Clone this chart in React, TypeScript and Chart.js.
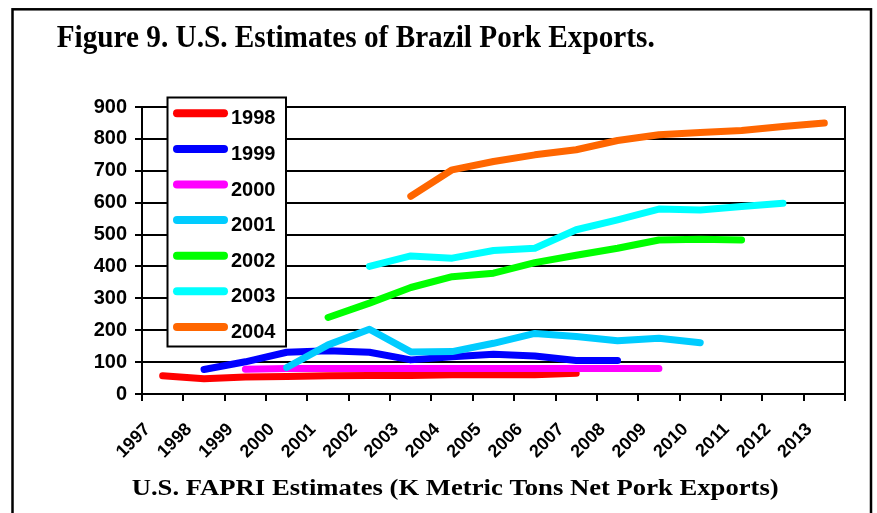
import React, { useEffect, useRef } from "react";
import { Chart, registerables } from "chart.js";

Chart.register(...registerables);

// Projection years on the category axis
const years = [
  "1997", "1998", "1999", "2000", "2001", "2002", "2003", "2004", "2005",
  "2006", "2007", "2008", "2009", "2010", "2011", "2012", "2013",
];

// One line per FAPRI baseline year (K metric tons net pork exports)
const seriesLabels = ["1998", "1999", "2000", "2001", "2002", "2003", "2004"];

const est1998 = [57, 48, 53, 55, 57, 58, 58, 60, 60, 60, 65, null, null, null, null, null, null];
const est1999 = [null, 77, 101, 131, 136, 131, 107, 117, 125, 119, 105, 105, null, null, null, null, null];
const est2000 = [null, null, 78, 80, 80, 80, 80, 80, 80, 80, 80, 80, 80, null, null, null, null];
const est2001 = [null, null, null, 83, 154, 203, 132, 133, 159, 190, 180, 167, 175, 161, null, null, null];
const est2002 = [null, null, null, null, 240, 285, 334, 368, 379, 412, 435, 457, 483, 485, 483, null, null];
const est2003 = [null, null, null, null, null, 400, 433, 426, 450, 457, 515, 546, 580, 577, 588, 598, null];
const est2004 = [null, null, null, null, null, null, 620, 703, 729, 750, 766, 795, 813, 820, 826, 839, 850];

const seriesValues = [est1998, est1999, est2000, est2001, est2002, est2003, est2004];
const seriesColors = ["#FF0000", "#0000FF", "#FF00FF", "#00CCFF", "#00FF00", "#00FFFF", "#FF6600"];

const yMin = 0;
const yMax = 900;
const yStep = 100;

const titleText = "Figure 9. U.S. Estimates of Brazil Pork Exports.";
const xTitleText = "U.S. FAPRI Estimates (K Metric Tons Net Pork Exports)";

const SANS = '"Liberation Sans", Arial, sans-serif';
const SERIF = '"Liberation Serif", "Times New Roman", serif';

// Draws a line of text squeezed or stretched to an exact width
function drawFittedText(
  ctx: CanvasRenderingContext2D,
  text: string,
  font: string,
  x: number,
  baseline: number,
  width: number
) {
  ctx.save();
  ctx.font = font;
  const w = ctx.measureText(text).width;
  ctx.translate(x, baseline);
  ctx.scale(width / w, 1);
  ctx.textAlign = "left";
  ctx.textBaseline = "alphabetic";
  ctx.fillStyle = "#000";
  ctx.fillText(text, 0, 0);
  ctx.restore();
}

// White page, outer frame and the two serif titles
const framePlugin = {
  id: "figureFrame",
  beforeDraw(chart: Chart) {
    const ctx = chart.ctx;
    ctx.save();
    ctx.fillStyle = "#fff";
    ctx.fillRect(0, 0, chart.width, chart.height);
    ctx.strokeStyle = "#000";
    ctx.lineWidth = 2.5;
    ctx.strokeRect(12.5, 9.3, 858.5, 520);
    ctx.restore();
    drawFittedText(ctx, titleText, `bold 31px ${SERIF}`, 56.7, 46.7, 598);
    drawFittedText(ctx, xTitleText, `bold 23px ${SERIF}`, 131.7, 495, 647);
  },
};

// Closes the plot area on the right and adds the last category tick
const plotBorderPlugin = {
  id: "plotBorder",
  beforeDatasetsDraw(chart: Chart) {
    const { ctx, chartArea } = chart;
    ctx.save();
    ctx.strokeStyle = "#000";
    ctx.lineWidth = 2;
    ctx.beginPath();
    ctx.moveTo(chartArea.left, chartArea.top);
    ctx.lineTo(chartArea.right, chartArea.top);
    ctx.lineTo(chartArea.right, chartArea.bottom + 7);
    ctx.stroke();
    ctx.restore();
  },
};

// Boxed legend sitting over the upper-left part of the plot
const boxLegendPlugin = {
  id: "boxLegend",
  afterDatasetsDraw(chart: Chart) {
    const ctx = chart.ctx;
    const bx = 167.5;
    const by = 97.5;
    const bw = 118.5;
    const bh = 249;
    ctx.save();
    ctx.fillStyle = "#fff";
    ctx.fillRect(bx, by, bw, bh);
    ctx.strokeStyle = "#000";
    ctx.lineWidth = 2;
    ctx.strokeRect(bx, by, bw, bh);
    chart.data.datasets.forEach((ds: any, i: number) => {
      const y = 113.3 + i * 35.6;
      ctx.strokeStyle = ds.borderColor;
      ctx.lineWidth = 8;
      ctx.lineCap = "round";
      ctx.beginPath();
      ctx.moveTo(177, y);
      ctx.lineTo(224, y);
      ctx.stroke();
      ctx.fillStyle = "#000";
      ctx.font = `bold 20px ${SANS}`;
      ctx.textAlign = "left";
      ctx.textBaseline = "alphabetic";
      ctx.fillText(ds.label, 231, y + 11);
    });
    ctx.restore();
  },
};

export default function App() {
  const canvasRef = useRef<HTMLCanvasElement | null>(null);

  useEffect(() => {
    const canvas = canvasRef.current;
    if (!canvas) return;

    const datasets = seriesLabels.map((label, i) => ({
      label,
      data: seriesValues[i],
      borderColor: seriesColors[i],
      backgroundColor: seriesColors[i],
      borderWidth: 7,
      borderCapStyle: "round" as const,
      borderJoinStyle: "round" as const,
      pointRadius: 0,
      pointHoverRadius: 0,
      tension: 0,
      fill: false,
      spanGaps: false,
      order: 20 - i,
    }));

    const chart = new Chart(canvas, {
      type: "line",
      data: { labels: years, datasets },
      options: {
        animation: false,
        responsive: false,
        devicePixelRatio: 1,
        events: [],
        layout: { padding: { top: 107, right: 32, bottom: 0, left: 0 } },
        plugins: {
          legend: { display: false },
          title: { display: false },
          tooltip: { enabled: false },
        },
        scales: {
          x: {
            type: "category",
            offset: true,
            grid: {
              display: true,
              drawOnChartArea: false,
              drawTicks: true,
              tickLength: 7,
              color: "#000",
              lineWidth: 2,
              offset: true,
            },
            border: { display: true, color: "#000", width: 2 },
            ticks: {
              autoSkip: false,
              minRotation: 45,
              maxRotation: 45,
              labelOffset: -15,
              padding: 18,
              color: "#000",
              font: { family: SANS, size: 18, weight: "bold" },
            },
            afterFit(scale: any) {
              scale.height = 119;
            },
          },
          y: {
            min: yMin,
            max: yMax,
            grid: {
              color: "#000",
              lineWidth: 2,
              drawTicks: true,
              tickLength: 7,
            },
            border: { display: true, color: "#000", width: 2 },
            ticks: {
              stepSize: yStep,
              padding: 8,
              color: "#000",
              font: { family: SANS, size: 20, weight: "bold" },
            },
            afterFit(scale: any) {
              scale.width = 142;
            },
          },
        },
      },
      plugins: [framePlugin, plotBorderPlugin, boxLegendPlugin],
    });

    return () => {
      chart.destroy();
    };
  }, []);

  return (
    <div style={{ position: "absolute", left: 0, top: 0, width: 877, height: 513, background: "#fff" }}>
      <canvas ref={canvasRef} width={877} height={513} style={{ display: "block" }} />
    </div>
  );
}
